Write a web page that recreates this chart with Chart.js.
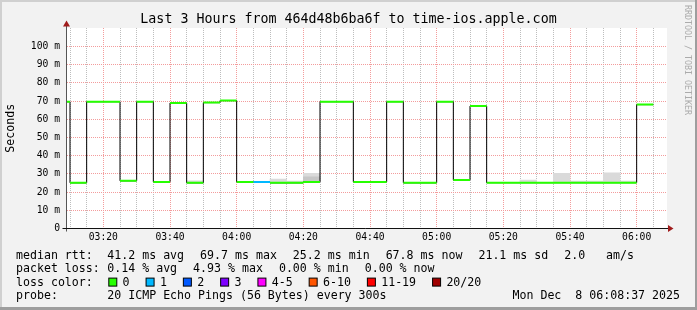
<!DOCTYPE html>
<html><head><meta charset="utf-8">
<script src="https://cdn.jsdelivr.net/npm/chart.js@4/dist/chart.umd.min.js"></script>
<style>html,body{margin:0;padding:0;background:#f2f2f2;overflow:hidden}canvas{display:block}</style>
</head><body>
<canvas id="c" width="697" height="310"></canvas>
<script>
// ---------- data ----------
const titleText = 'Last 3 Hours from 464d48b6ba6f to time-ios.apple.com';
const yAxisTitle = 'Seconds';
const viewStart = '03:09:06';
const viewEnd = '06:09:06';
const slotMinutes = 5;
const slotStart = ['03:05','03:10','03:15','03:20','03:25','03:30','03:35','03:40','03:45','03:50','03:55','04:00',
  '04:05','04:10','04:15','04:20','04:25','04:30','04:35','04:40','04:45','04:50','04:55','05:00',
  '05:05','05:10','05:15','05:20','05:25','05:30','05:35','05:40','05:45','05:50','05:55','06:00'];
const medianRtt = [69.7,25.1,69.7,69.7,26.2,69.7,25.6,69.0,25.1,69.2,70.3,25.6,
  25.6,25.1,25.1,25.6,69.7,69.7,25.6,25.6,69.7,25.1,25.1,69.7,
  26.6,67.3,25.2,25.2,25.2,25.2,25.2,25.2,25.2,25.2,25.2,68.1];
const lossCount = [0,0,0,0,0,0,0,0,0,0,0,0,
  1,0,0,0,0,0,0,0,0,0,0,0,
  0,0,0,0,0,0,0,0,0,0,0,0];
const smokeOuter = [null,null,null,null,null,null,null,null,26.2,null,null,null,
  null,27.1,26.0,30.3,null,null,null,null,null,null,null,null,
  null,null,null,null,26.6,null,30.3,26.0,26.0,30.6,26.0,null];
const smokeInner = [null,null,null,null,null,null,null,null,null,null,null,null,
  null,null,null,28.4,null,null,null,null,null,null,null,null,
  null,null,null,null,null,null,null,null,null,null,null,null];
const lossLabels = ['0','1','2','3','4-5','6-10','11-19','20/20'];
const lossUpper  = [0,1,2,3,5,10,19,20];
const lossColors = ['#26ff00','#00b8ff','#0059ff','#7e00ff','#ff00ff','#ff5500','#ff0000','#a00000'];
const yTickLabels = ['0','10 m','20 m','30 m','40 m','50 m','60 m','70 m','80 m','90 m','100 m'];
const rttStats = ['41.2 ms avg','69.7 ms max','25.2 ms min','67.8 ms now','21.1 ms sd','2.0   am/s'];
const lossStats = ['0.14 % avg','4.93 % max','0.00 % min','0.00 % now'];
const probeText = '20 ICMP Echo Pings (56 Bytes) every 300s';
const stampText = 'Mon Dec  8 06:08:37 2025';
const watermark = 'RRDTOOL / TOBI OETIKER';

// ---------- helpers ----------
const FONT = "'DejaVu Sans Mono', monospace";
const BASE_H = 3;
function toMin(s){const p=s.split(':').map(Number);return (p[0]-BASE_H)*60+p[1]+(p[2]||0)/60;}
function fmt(m){const t=BASE_H*60+m;const h=Math.floor(t/60),mm=t%60;return String(h).padStart(2,'0')+':'+String(mm).padStart(2,'0');}
const xs = slotStart.map(toMin);
const xe = xs.map(x=>x+slotMinutes);
const X_MIN = toMin(viewStart), X_MAX = toMin(viewEnd);
function lossClass(n){for(let k=0;k<lossUpper.length;k++){if(n<=lossUpper[k])return k;}return lossUpper.length-1;}

const smokeOuterData = xs.map((x,i)=>({x:x+slotMinutes/2, y: smokeOuter[i]==null?null:[medianRtt[i], smokeOuter[i]]}));
const smokeInnerData = xs.map((x,i)=>({x:x+slotMinutes/2, y: smokeInner[i]==null?null:[medianRtt[i], smokeInner[i]]}));
const stepData = xs.map((x,i)=>({x, y: medianRtt[i]}));
stepData.push({x: xe[xe.length-1], y: medianRtt[medianRtt.length-1]});

const medianSets = [];
lossColors.forEach((col,k)=>{
  const d=[];
  xs.forEach((x,i)=>{ if(lossClass(lossCount[i])===k){ d.push({x,y:medianRtt[i]},{x:xe[i],y:medianRtt[i]},{x:xe[i],y:null}); } });
  if(d.length) medianSets.push({type:'line', data:d, borderColor:col, borderWidth:2, pointRadius:0, spanGaps:false, borderCapStyle:'butt', order:0});
});

// x ticks at every slot boundary inside the view
const xTickValues = [...new Set(xs.concat(xe))].filter(v=>v>=X_MIN && v<=X_MAX).sort((a,b)=>a-b);

const GRID_GREY = '#bdbdbd';
const GRID_RED = '#f39c9c';
const NONE = 'rgba(0,0,0,0)';

const rrdPlugin = {
  id:'rrd',
  beforeDraw(chart){
    const {ctx, chartArea:a, width:W, height:H} = chart;
    ctx.save();
    ctx.fillStyle='#f2f2f2'; ctx.fillRect(0,0,W,H);
    ctx.fillStyle='#d0d0d0'; ctx.fillRect(0,0,W,2); ctx.fillRect(0,0,2,H);
    ctx.fillStyle='#9e9e9e'; ctx.fillRect(0,H-3,W,3); ctx.fillRect(W-2,0,2,H);
    ctx.fillStyle='#ffffff'; ctx.fillRect(a.left,a.top,a.right-a.left,a.bottom-a.top);
    ctx.restore();
  },
  afterDraw(chart){
    const {ctx, chartArea:a, width:W} = chart;
    ctx.save();
    const yb = Math.floor(a.bottom)+0.5, xl = Math.floor(a.left)-0.5;
    ctx.strokeStyle='#555'; ctx.lineWidth=1;
    ctx.beginPath(); ctx.moveTo(xl, yb+3); ctx.lineTo(xl, a.top-2); ctx.stroke();
    ctx.strokeStyle='#111';
    ctx.beginPath(); ctx.moveTo(xl-4, yb); ctx.lineTo(a.right+1, yb); ctx.stroke();
    ctx.fillStyle='#a01c1c';
    ctx.beginPath(); ctx.moveTo(xl, a.top-7.5); ctx.lineTo(xl-3.5, a.top-1.5); ctx.lineTo(xl+3.5, a.top-1.5); ctx.closePath(); ctx.fill();
    ctx.beginPath(); ctx.moveTo(a.right+6.5, yb); ctx.lineTo(a.right+1, yb-3.5); ctx.lineTo(a.right+1, yb+3.5); ctx.closePath(); ctx.fill();
    ctx.fillStyle='#000'; ctx.textBaseline='alphabetic';
    ctx.font='13.3px '+FONT; ctx.textAlign='center';
    ctx.fillText(titleText, W/2, 23.3);
    ctx.font='11.6px '+FONT; ctx.textAlign='left';
    const L=16, X0=107.3, GAP=16, rows=[258.7,272.1,285.6,299.2];
    ctx.fillText('median rtt:', L, rows[0]);
    let x=X0; rttStats.forEach(s=>{ctx.fillText(s,x,rows[0]); x+=ctx.measureText(s).width+GAP;});
    ctx.fillText('packet loss:', L, rows[1]);
    x=X0; lossStats.forEach(s=>{ctx.fillText(s,x,rows[1]); x+=ctx.measureText(s).width+GAP;});
    ctx.fillText('loss color:', L, rows[2]);
    x=X0+1; lossLabels.forEach((s,k)=>{
      ctx.fillStyle=lossColors[k]; ctx.fillRect(x+0.5, rows[2]-7.5, 8, 8);
      ctx.strokeStyle='#000'; ctx.lineWidth=1; ctx.strokeRect(x+0.5, rows[2]-7.5, 8, 8);
      ctx.fillStyle='#000'; ctx.fillText(s, x+14.3, rows[2]);
      x += 14.3 + ctx.measureText(s).width + GAP;
    });
    ctx.fillText('probe:', L, rows[3]);
    ctx.fillText(probeText, X0, rows[3]);
    ctx.textAlign='right'; ctx.fillText(stampText, 680, rows[3]);
    ctx.save();
    ctx.translate(685, 5); ctx.rotate(Math.PI/2);
    ctx.font='8.3px '+FONT; ctx.fillStyle='#ababab'; ctx.textAlign='left'; ctx.textBaseline='alphabetic';
    ctx.fillText(watermark, 0, 0);
    ctx.restore();
    ctx.restore();
  }
};

function xGridColor(c){ if(!c.tick) return NONE; const m=Math.round(c.tick.value); return m%20===0?GRID_RED:GRID_GREY; }
function yGridColor(c){ if(!c.tick) return NONE; const m=Math.round(c.tick.value); if(m===0||m>107) return NONE; return m%10===0?GRID_RED:GRID_GREY; }

new Chart(document.getElementById('c'), {
  type:'line',
  data:{datasets:[
    {type:'bar', data:smokeOuterData, backgroundColor:'#dadada', barPercentage:1, categoryPercentage:1, grouped:false, borderWidth:0, order:3},
    {type:'bar', data:smokeInnerData, backgroundColor:'#c6c6c6', barPercentage:1, categoryPercentage:1, grouped:false, borderWidth:0, order:2},
    {type:'line', data:stepData, stepped:true, borderColor:'#000', borderWidth:1, pointRadius:0, order:1},
    ...medianSets
  ]},
  options:{
    responsive:false, animation:false, devicePixelRatio:1,
    layout:{padding:{top:28,right:30,left:0,bottom:0}},
    plugins:{legend:{display:false}, tooltip:{enabled:false}, title:{display:false}},
    scales:{
      x:{type:'linear', offset:false, bounds:'ticks', min:X_MIN, max:X_MAX,
        afterFit:s=>{s.height=81.5;},
        afterBuildTicks:s=>{ s.ticks = xTickValues.map(v=>({value:v})); },
        ticks:{autoSkip:false, maxRotation:0, minRotation:0, padding:3,
          color:'#000', font:{family:FONT, size:9.7},
          callback:v=>{const m=Math.round(v); return m%20===0?fmt(m):'';}},
        grid:{offset:false, drawTicks:false, lineWidth:1, color:xGridColor},
        border:{display:false, dash:[1,1]}
      },
      y:{type:'linear', min:0, max:110.2,
        afterFit:s=>{s.width=67;},
        ticks:{stepSize:5, includeBounds:false, padding:7, color:'#000', font:{family:FONT, size:9.7},
          callback:v=>{const m=Math.round(v); return (m%10===0 && m/10<yTickLabels.length)?yTickLabels[m/10]:'';}},
        grid:{drawTicks:false, lineWidth:1, color:yGridColor},
        border:{display:false, dash:[1,1]},
        title:{display:true, text:yAxisTitle, color:'#000', font:{family:FONT, size:11.6, lineHeight:1.2}, padding:{top:4,bottom:0}}
      }
    }
  },
  plugins:[rrdPlugin]
});
</script>
</body></html>
